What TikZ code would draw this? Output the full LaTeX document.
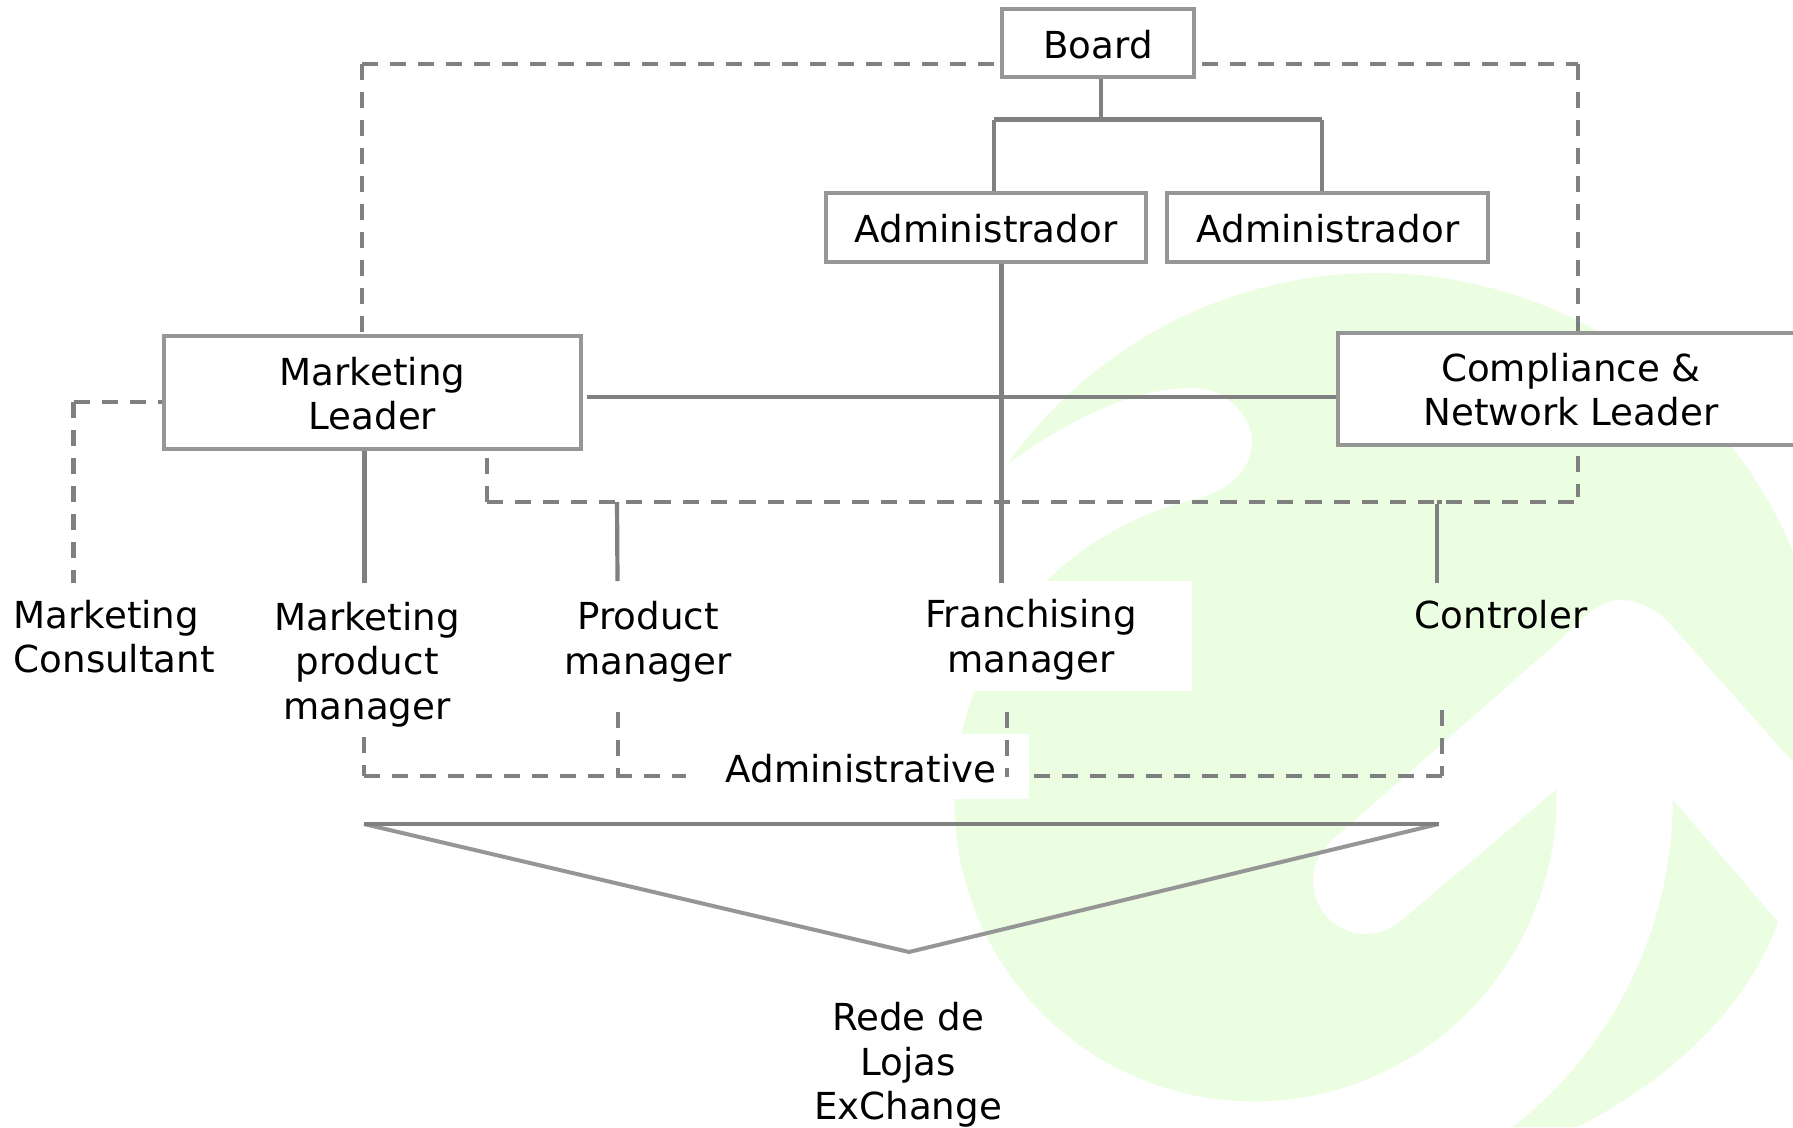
\documentclass[tikz,border=0pt]{standalone}
\usepackage{fontspec}
\setmainfont{DejaVu Sans}
\definecolor{logo}{HTML}{ECFEE2}
\definecolor{linec}{HTML}{808080}
\definecolor{boxc}{HTML}{969696}
\tikzset{
  lbl/.style={inner sep=0pt,align=center,text=black,font=\fontsize{37.2}{44.5}\selectfont},
  orgbox/.style={lbl,draw=boxc,line width=4.4pt,fill=white},
  solidline/.style={draw=linec,line width=4.2pt},
  dashline/.style={draw=linec,line width=4.2pt,dash pattern=on 16pt off 12pt},
  dashlong/.style={draw=linec,line width=4.2pt,dash pattern=on 16.3pt off 12pt},
  sideline/.style={draw=boxc,line width=4pt,line join=miter}
}
\begin{document}
\begin{tikzpicture}[x=1pt,y=-1pt]
\useasboundingbox (0,0) rectangle (1793,1127);
\clip (0,0) rectangle (1793,1127);
\fill[white] (0,0) rectangle (1793,1127);
% background logo
\fill[logo]
  plot[domain=146:15,samples=80,variable=\a] ({1376+(438+18*((\a-90)/100)*((\a-90)/100))*cos(\a)},{711-(438+18*((\a-90)/100)*((\a-90)/100))*sin(\a)})
  -- (1809,780) -- (1672,626)
  .. controls (1658,610) and (1640,600) .. (1620,600)
  .. controls (1600,600) and (1583,617) .. (1560,640)
  -- (1331,841)
  -- plot[domain=131:311,samples=50,variable=\a] ({1366+53*cos(\a)},{881-53*sin(\a)})
  -- (1557,789)
  -- plot[domain=3.6:-261,samples=120,variable=\a] ({1252+(293+9.5*((\a+110)/100)*((\a+110)/100))*cos(\a)},{808-(293+9.5*((\a+110)/100)*((\a+110)/100))*sin(\a)})
  .. controls (1235,487) and (1252,465) .. (1252,442)
  .. controls (1252,415) and (1225,388) .. (1193,388)
  .. controls (1130,388) and (1070,420) .. (1010,462)
  -- cycle;
\fill[logo]
  (1673,800) -- (1778,922)
  .. controls (1750,1000) and (1680,1075) .. (1577,1127)
  -- (1512,1127)
  -- plot[domain=-50.5:1,samples=40,variable=\a] ({1252+(421+(\a-1)*0.175)*cos(\a)},{808-(421+(\a-1)*0.175)*sin(\a)})
  -- cycle;
% white masks behind two labels
\fill[white] (870,581) rectangle (1192,691);
\fill[white] (690,734) rectangle (1029,799);
% boxes
\node[orgbox,minimum width=192pt,minimum height=68pt] (board) at (1098,43) {};
\node[orgbox,minimum width=320pt,minimum height=69pt] (adm1) at (986,227.5) {};
\node[orgbox,minimum width=321pt,minimum height=69pt] (adm2) at (1327.5,227.5) {};
\node[orgbox,minimum width=417pt,minimum height=113pt] (ml) at (372.5,392.5) {};
\node[orgbox,minimum width=466pt,minimum height=112pt] (cn) at (1571,389) {};
% junction coordinates
\coordinate (cTL) at (362,64);
\coordinate (cTR) at (1578,64);
\coordinate (bR) at (1202,64);
\coordinate (cL) at (73.5,402);
\coordinate (jTop) at (1101,119.5);
\coordinate (jA) at (994,119.5);
\coordinate (jB) at (1322,119.5);
\coordinate (mc) at (73.5,583);
\coordinate (mp) at (364.5,583);
\coordinate (pm) at (617.5,581);
\coordinate (fm) at (1001.5,583);
\coordinate (ct) at (1437,583);
\coordinate (d1) at (487,502);
\coordinate (d2) at (617,502);
\coordinate (d3) at (626,502);
\coordinate (d3e) at (1434,502);
\coordinate (d7) at (1437,502);
\coordinate (d8) at (1442,502);
\coordinate (d4) at (1574,502);
\coordinate (d4e) at (1446,502);
\coordinate (d5) at (1578,456);
\coordinate (d6) at (1578,497);
\coordinate (ct0) at (1437,504);
\coordinate (e1) at (364,776);
\coordinate (e1t) at (364,737);
\coordinate (e2) at (686,776);
\coordinate (e3) at (618,712);
\coordinate (e3b) at (618,776);
\coordinate (e4) at (1007,712);
\coordinate (e4b) at (1007,777);
\coordinate (e5) at (1034,776);
\coordinate (e6) at (1442,776);
\coordinate (e6t) at (1442,710);
\coordinate (hStart) at (586.5,397);
\coordinate (tL) at (364,824);
\coordinate (tR) at (1438.5,824);
\coordinate (tA) at (909,952);
% solid connectors
\draw[solidline] (board.south -| jTop) -- (jTop);
\draw[solidline] (jA) -- (jB);
\draw[solidline] (jA) -- (jA |- adm1.north);
\draw[solidline] (jB) -- (jB |- adm2.north);
\draw[solidline] (hStart) -- (hStart -| cn.west);
\draw[solidline] (adm1.south -| fm) -- (fm);
\draw[solidline] (ml.south -| mp) -- (mp);
\draw[solidline] (d2) -- (pm);
\draw[solidline] (ct0) -- (ct);
\draw[solidline] (d7) -- (d8);
% dashed connectors
\draw[dashline] (cTL) -- (cTL -| board.west);
\draw[dashline] (cTL) -- (cTL |- ml.north);
\draw[dashline] (bR) -- (cTR);
\draw[dashline] (cTR) -- (cTR |- cn.north);
\draw[dashline] (cL) -- (cL -| ml.west);
\draw[dashline] (cL) -- (mc);
\draw[dashline] (d1) -- (d1 |- ml.south);
\draw[dashline] (d1) -- (d2);
\draw[dashlong] (d3) -- (d3e);
\draw[dashline] (d4) -- (d4e);
\draw[dashline] (d5) -- (d6);
\draw[dashline] (e1t) -- (e1);
\draw[dashline] (e1) -- (e2);
\draw[dashline] (e3) -- (e3b);
\draw[dashline] (e4) -- (e4b);
\draw[dashline] (e5) -- (e6);
\draw[dashline] (e6t) -- (e6);
% funnel
\draw[sideline] (tL) -- (tA) -- (tR);
\draw[solidline] (tL) -- (tR);
% labels
\node[lbl] (tBoard) at (1098,50) {\strut Board};
\node[lbl] (tAdm1) at (986,234) {\strut Administrador};
\node[lbl] (tAdm2) at (1328,234) {\strut Administrador};
\node[lbl] (tMl) at (372.5,398.5) {\strut Marketing\\\strut Leader};
\node[lbl] (tCn) at (1571,394.5) {\strut Compliance \&\\\strut Network Leader};
\node[lbl,anchor=west,align=left] (tMc) at (13.5,641.5) {\strut Marketing\\\strut Consultant};
\node[lbl] (tMp) at (367,666) {\strut Marketing\\\strut product\\\strut manager};
\node[lbl] (tPm) at (648,643) {\strut Product\\\strut manager};
\node[lbl] (tFm) at (1031,641) {\strut Franchising\\\strut manager};
\node[lbl] (tCt) at (1501,619.5) {\strut Controler};
\node[lbl] (tAd) at (861,774) {\strut Administrative};
\node[lbl] (tRede) at (908,1066.5) {\strut Rede de\\\strut Lojas\\\strut ExChange};
\end{tikzpicture}
\end{document}
